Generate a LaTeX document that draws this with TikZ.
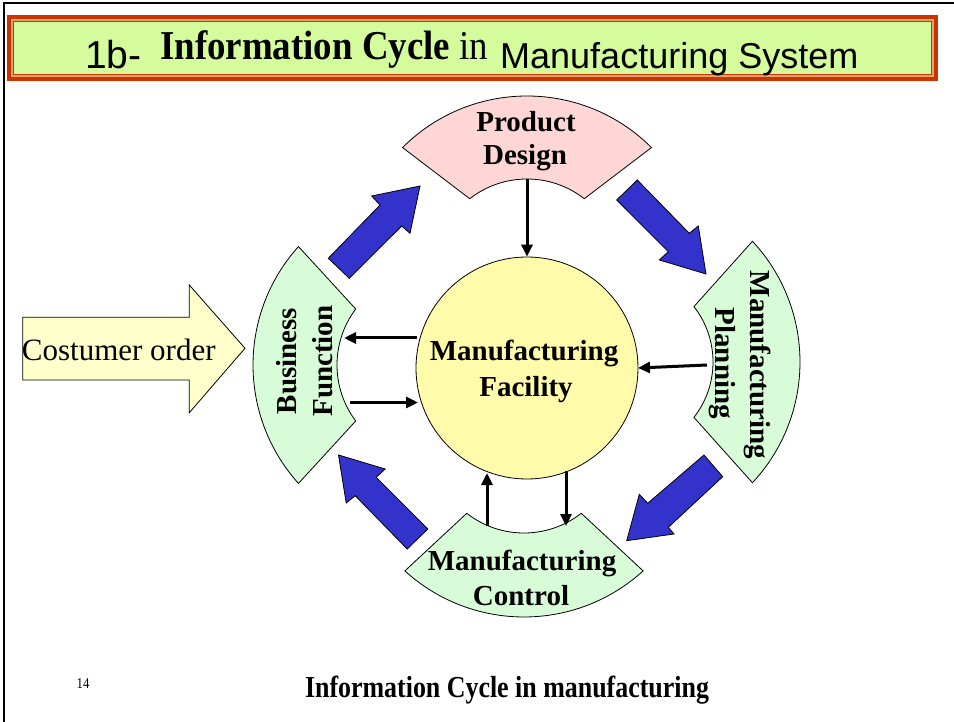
\documentclass[tikz,border=0pt]{standalone}
\usepackage{fontspec}
\setmainfont{Liberation Serif}
\newfontfamily\arialf{Liberation Sans}
\newfontfamily\titleserif[FakeStretch=0.9]{Liberation Serif}
\newfontfamily\capserif[FakeStretch=0.85]{Liberation Serif}
\usetikzlibrary{arrows.meta}
\definecolor{tred}{HTML}{CC3300}
\definecolor{ttan}{HTML}{DDA870}
\definecolor{tgreen}{HTML}{D4FB9C}
\definecolor{pdpink}{HTML}{FFD6D6}
\definecolor{mint}{HTML}{D8FCD8}
\definecolor{circyel}{HTML}{FFFBAA}
\definecolor{cream}{HTML}{FFFFCC}
\definecolor{arrowblue}{HTML}{3333CC}
\newcommand\blockarc[8]{%
  \path[#1] ({#2+#4*cos(#6-#7)},{#3+#4*sin(#6-#7)})
    arc[start angle={#6-#7}, end angle={#6+#7}, radius=#4]
    -- ({#2+#5*cos(#6+#8)},{#3+#5*sin(#6+#8)})
    arc[start angle={#6+#8}, end angle={#6-#8}, radius=#5] -- cycle;}
\tikzset{
  sectorline/.style={draw=black, line width=0.8pt},
  blockarrow/.style={draw=black, line width=0.8pt, fill=arrowblue, line join=miter},
  conn/.style={line width=3pt, -{Triangle[length=12pt,width=11pt]}},
  lbl/.style={font=\fontsize{29}{34}\selectfont\bfseries, inner sep=0pt, anchor=base},
  ttl/.style={inner sep=0pt, anchor=base west},
}
\begin{document}
\begin{tikzpicture}[x=1pt,y=-1pt]
\useasboundingbox (0,0) rectangle (954,722);
\fill[white] (0,0) rectangle (954,722);
\draw[line width=1.5pt] (4,722) -- (4,3) -- (954,3);
% title box
\fill[tred] (7,15) rectangle (938,81);
\fill[ttan] (11,19) rectangle (934,77);
\filldraw[fill=tgreen, draw=tred, line width=0.8pt] (13.5,21.5) rectangle (931.5,74.5);
\node[ttl, font=\arialf\fontsize{39}{42}\selectfont] (t1) at (85,69) {1b-};
\node[ttl, font=\titleserif\fontsize{41}{44}\selectfont] (t2) at (160,60) {\textbf{Information Cycle} in};
\node[ttl, font=\arialf\fontsize{36}{40}\selectfont] (t3) at (500,69) {Manufacturing System};
% sectors
\blockarc{fill=pdpink, sectorline}{527}{272}{176}{93}{270}{45}{38}
\blockarc{fill=mint, sectorline}{430}{365}{177}{93}{180}{42}{37}
\blockarc{fill=mint, sectorline}{623}{362}{177}{90}{0}{43}{38}
\blockarc{fill=mint, sectorline}{524}{440}{177}{93}{90}{42.3}{38}
% central circle
\node[circle, draw=black, line width=0.8pt, fill=circyel, minimum size=222pt, inner sep=0pt] (mf) at (527,368) {};
% customer order arrow
\path[draw=black, line width=0.8pt, fill=cream] (22.7,317.3) -- (189.3,317.3) -- (189.3,285) -- (245,348.3) -- (189.3,412.7) -- (189.3,380) -- (22.7,380) -- cycle;
\node[ttl, font=\fontsize{31}{36}\selectfont] (co) at (21.7,360) {Costumer order};
% blue block arrows
\path[blockarrow] (328.3,258.3) -- (380,205) -- (371.7,196) -- (420,186) -- (410,233.3) -- (401.7,226) -- (349.3,278.3) -- cycle;
\path[blockarrow] (637.3,180) -- (689.3,233.3) -- (698.3,226) -- (706,274) -- (659.3,260) -- (668.3,251.7) -- (616.7,200) -- cycle;
\path[blockarrow] (704,455) -- (647.7,503.3) -- (639.3,494.3) -- (626.7,540.7) -- (674,534) -- (668.3,527.3) -- (722.7,476.7) -- cycle;
\path[blockarrow] (407.2,549) -- (355.2,495.7) -- (346.2,503) -- (338.5,455) -- (385.2,469) -- (376.2,477.3) -- (427.8,529) -- cycle;
% connector end points
\coordinate (pdin) at (527,179);
\coordinate (bfa) at (417,338);
\coordinate (bfb) at (344,338);
\coordinate (bfc) at (350,402.5);
\coordinate (bfd) at (418,402.5);
\coordinate (mpa) at (707,365);
\coordinate (mpb) at (638,368);
\coordinate (mca) at (566,471);
\coordinate (mcb) at (566,526);
\coordinate (mcc) at (487,526);
\coordinate (mcd) at (487,473);
\draw[conn] (pdin) -- (mf.north);
\draw[conn] (bfa) -- (bfb);
\draw[conn] (bfc) -- (bfd);
\draw[conn] (mpa) -- (mpb);
\draw[conn] (mca) -- (mcb);
\draw[conn] (mcc) -- (mcd);
% labels
\node[lbl] (pd1) at (526,131.7) {Product};
\node[lbl] (pd2) at (525,165) {Design};
\node[lbl] (mf1) at (524,360) {Manufacturing};
\node[lbl] (mf2) at (526,396.7) {Facility};
\node[lbl] (mc1) at (522,570.7) {Manufacturing};
\node[lbl] (mc2) at (521,605.7) {Control};
\node[lbl, rotate=90] (bf1) at (296.7,361) {Business};
\node[lbl, rotate=90] (bf2) at (332.7,361) {Function};
\node[lbl, rotate=-90] (mp1) at (750.7,365) {Manufacturing};
\node[lbl, rotate=-90] (mp2) at (715,363.3) {Planning};
% footer
\node[font=\capserif\fontsize{30.5}{34}\selectfont\bfseries, anchor=base, inner sep=0pt] (cap) at (507,697.5) {Information Cycle in manufacturing};
\node[font=\capserif\fontsize{15}{17}\selectfont, anchor=base, inner sep=0pt] (pg) at (83,688.5) {14};
\end{tikzpicture}
\end{document}
